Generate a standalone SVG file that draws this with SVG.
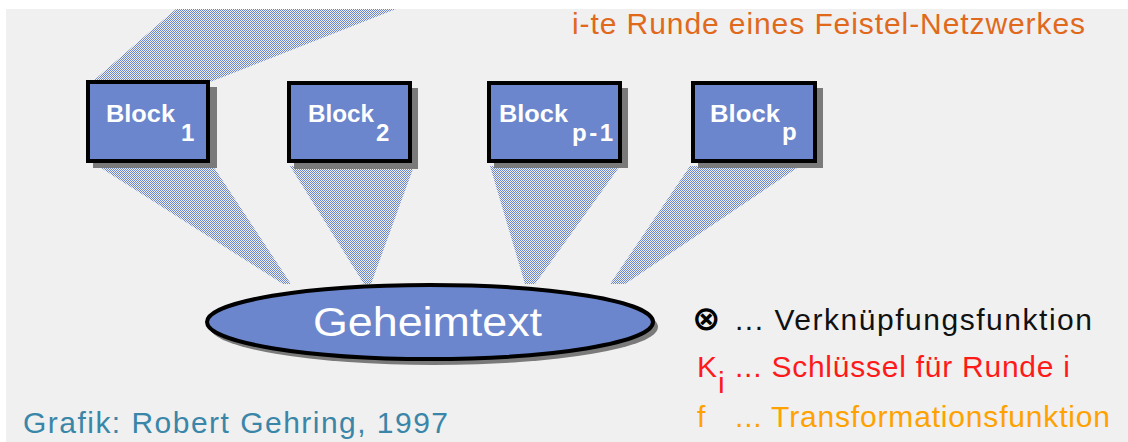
<svg xmlns="http://www.w3.org/2000/svg" width="1128" height="442" viewBox="0 0 1128 442">
  <defs>
    <!-- 1px checkerboard dither used for the light-blue fans -->
    <pattern id="dither" width="2" height="2" patternUnits="userSpaceOnUse">
      <rect x="0" y="0" width="1" height="1" fill="#6b86cc"/>
      <rect x="1" y="1" width="1" height="1" fill="#6b86cc"/>
    </pattern>
    <style>
      .fan { fill: url(#dither); stroke: none; }
      .shadow { fill: #7a7a7a; }
      .box { fill: #6b86cc; stroke: #000; stroke-width: 4; }
      .blk { font-family: "Liberation Sans", Arial, sans-serif; font-weight: bold; font-size: 24px; fill: #fff; }
      .txt { font-family: "Liberation Sans", Arial, sans-serif; font-size: 30px; }
    </style>
  </defs>

  <!-- page -->
  <rect x="0" y="0" width="1128" height="442" fill="#ffffff"/>
  <rect x="6" y="9" width="1122" height="433" fill="#f0f0f0"/>

  <!-- fans between the blocks and the ciphertext -->
  <g id="connectors">
    <polygon class="fan" points="92,82 176,9 396,9 210,82"/>
    <polygon class="fan" points="98,166 213,166 291,284 283,284"/>
    <polygon class="fan" points="290,166 414,166 371,284 364,284"/>
    <polygon class="fan" points="490,166 620,166 535,284 525,284"/>
    <polygon class="fan" points="690,166 800,166 625,284 610,284"/>
  </g>

  <g id="block1">
    <rect class="shadow" x="93" y="87" width="124" height="81"/>
    <rect class="box" x="88" y="82" width="120" height="79"/>
    <text class="blk" x="106" y="122" textLength="69" lengthAdjust="spacingAndGlyphs">Block</text>
    <text class="blk" x="181" y="141">1</text>
  </g>

  <g id="block2">
    <rect class="shadow" x="294" y="88" width="124" height="81"/>
    <rect class="box" x="289" y="83" width="121" height="78"/>
    <text class="blk" x="308" y="122" textLength="66" lengthAdjust="spacingAndGlyphs">Block</text>
    <text class="blk" x="376" y="141">2</text>
  </g>

  <g id="block-p-1">
    <rect class="shadow" x="494" y="88" width="134" height="80"/>
    <rect class="box" x="489" y="83" width="131" height="78"/>
    <text class="blk" x="499" y="122" textLength="69" lengthAdjust="spacingAndGlyphs">Block</text>
    <text class="blk" x="572" y="141" textLength="41" lengthAdjust="spacing">p-1</text>
  </g>

  <g id="block-p">
    <rect class="shadow" x="698" y="88" width="125" height="80"/>
    <rect class="box" x="693" y="83" width="122" height="78"/>
    <text class="blk" x="710" y="122" textLength="70" lengthAdjust="spacingAndGlyphs">Block</text>
    <text class="blk" x="782" y="140">p</text>
  </g>

  <g id="geheimtext">
    <ellipse class="shadow" cx="434" cy="327" rx="224" ry="38"/>
    <ellipse class="box" cx="430" cy="322" rx="223" ry="37"/>
    <text x="313" y="336" textLength="229" lengthAdjust="spacingAndGlyphs" font-family="Liberation Sans, Arial, sans-serif" font-size="40" fill="#fff">Geheimtext</text>
  </g>

  <g id="title">
    <text class="txt" x="572" y="34" fill="#e0691c" textLength="513" lengthAdjust="spacing">i-te Runde eines Feistel-Netzwerkes</text>
  </g>

  <g id="legend">
    <text x="692" y="330" font-family="DejaVu Sans, sans-serif" font-weight="bold" font-size="34" fill="#000">⊗</text>
    <text class="txt" x="735" y="330" fill="#111" textLength="357" lengthAdjust="spacing">... Verknüpfungsfunktion</text>
    <text class="txt" x="697" y="377" fill="#ff1a1a">K</text>
    <text class="txt" x="718" y="393" font-size="22" fill="#ff1a1a">i</text>
    <text class="txt" x="735" y="377" fill="#ff1a1a" textLength="335" lengthAdjust="spacing">... Schlüssel für Runde  i</text>
    <text class="txt" x="697" y="427" fill="#ffa200">f</text>
    <text class="txt" x="735" y="427" fill="#ffa200" textLength="375" lengthAdjust="spacing">... Transformationsfunktion</text>
  </g>

  <g id="credit">
    <text class="txt" x="23" y="433" fill="#3a86a8" textLength="425" lengthAdjust="spacing">Grafik: Robert Gehring, 1997</text>
  </g>
</svg>
